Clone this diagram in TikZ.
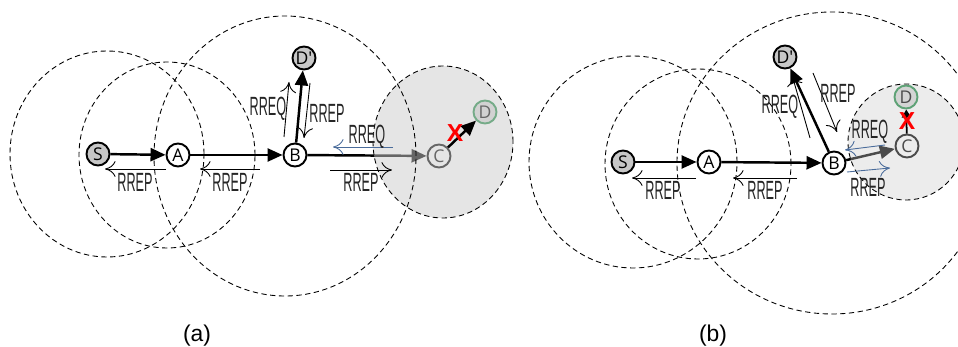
\documentclass[tikz,border=0pt]{standalone}
\usepackage{fontspec}
\usepackage{graphicx}
\setmainfont{Liberation Sans}
\newfontfamily\stnfont{Open Sans}
\usetikzlibrary{arrows.meta}
\definecolor{rreqblue}{HTML}{4A6C9B}
\definecolor{dgreen}{HTML}{1F8A45}
\newcommand{\msgtxt}[1]{\scalebox{0.48}[1]{#1}}

\begin{document}
\begin{tikzpicture}[
  stn/.style={circle,draw,line width=1.1pt,minimum size=0.46cm,inner sep=0pt,fill=white,font=\stnfont\fontsize{10}{10}\selectfont},
  src/.style={stn,fill=black!22},
  dst/.style={stn,draw=dgreen,fill=black!15},
  zone/.style={draw,line width=0.5pt,dash pattern=on 3pt off 2pt},
  shade/.style={fill=black!20},
  hop/.style={line width=1.4pt,-{Triangle[length=0.3cm,width=0.26cm]}},
  shorthop/.style={line width=1pt,-{Triangle[length=0.16cm,width=0.18cm]}},
  msg/.style={line width=0.5pt,-{Computer Modern Rightarrow[length=6pt,width=9pt]}},
  msglbl/.style={inner sep=0pt,text=black!85,font=\fontsize{15}{15}\selectfont},
  cross/.style={inner sep=0pt,text=red,font=\bfseries\fontsize{14}{14}\selectfont},
  caption/.style={inner sep=0pt,font=\fontsize{13}{13}\selectfont}
]
\useasboundingbox (0,0) rectangle (19.160,-6.940);
\clip (0,0) rectangle (19.160,-6.940);

\node[src] (Sa) at (1.960,-3.080) {S};
\node[stn] (Aa) at (3.560,-3.100) {A};
\node[stn] (Ba) at (5.900,-3.100) {B};
\node[src] (DPa) at (6.080,-1.160) {D'};
\node[stn] (Ca) at (8.780,-3.120) {C};
\node[dst] (Da) at (9.700,-2.240) {D};
\draw[hop] (Sa) -- (Aa);
\draw[hop] (Aa) -- (Ba);
\draw[hop] (Ba) -- (DPa);
\draw[hop] (Ba) -- (Ca);
\fill[shade,opacity=0.5] (8.860,-2.840) ellipse [x radius=1.400,y radius=1.520];
\draw[zone] (8.860,-2.840) ellipse [x radius=1.400,y radius=1.520];
\draw[zone] (2.140,-3.080) ellipse [x radius=1.940,y radius=2.060];
\draw[zone] (3.340,-3.100) ellipse [x radius=1.760,y radius=1.860];
\draw[zone] (5.700,-3.120) ellipse [x radius=2.620,y radius=2.800];
\draw[hop] (Ca) -- (Da);
\node[cross] (Xa) at (9.100,-2.660) {X};

\draw[msg] (3.320,-3.380) -- (2.100,-3.380);
\node[msglbl] (ra1) at (2.700,-3.640) {\msgtxt{RREP}};
\draw[msg] (5.200,-3.380) -- (4.000,-3.380);
\node[msglbl] (ra2) at (4.600,-3.640) {\msgtxt{RREP}};
\draw[msg] (6.600,-3.400) -- (7.840,-3.400);
\node[msglbl] (ra3) at (7.220,-3.640) {\msgtxt{RREP}};
\draw[msg] (5.680,-2.740) -- (5.780,-1.640);
\node[msglbl] (qa1) at (5.360,-2.180) {\msgtxt{RREQ}};
\draw[msg] (6.200,-1.660) -- (6.080,-2.760);
\node[msglbl] (ra4) at (6.540,-2.260) {\msgtxt{RREP}};
\draw[msg,rreqblue] (7.860,-2.940) -- (6.660,-2.940);
\node[msglbl] (qa2) at (7.340,-2.740) {\msgtxt{RREQ}};

\node[src] (Sb) at (12.460,-3.240) {S};
\node[stn] (Ab) at (14.180,-3.240) {A};
\node[stn] (Bb) at (16.680,-3.260) {B};
\node[src] (DPb) at (15.700,-1.140) {D'};
\node[stn] (Cb) at (18.140,-2.920) {C};
\node[dst] (Db) at (18.120,-1.940) {D};
\draw[hop] (Sb) -- (Ab);
\draw[hop] (Ab) -- (Bb);
\draw[hop] (Bb) -- (DPb);
\draw[hop] (Bb) -- (Cb);
\fill[shade,opacity=0.37] (18.120,-2.840) ellipse [x radius=1.160,y radius=1.160];
\draw[zone] (18.120,-2.840) ellipse [x radius=1.160,y radius=1.160];
\draw[zone] (12.660,-3.240) ellipse [x radius=2.080,y radius=2.120];
\draw[zone] (13.960,-3.280) ellipse [x radius=1.860,y radius=1.900];
\draw[zone] (16.640,-3.260) ellipse [x radius=3.100,y radius=3.020];
\draw[shorthop] (Cb) -- (Db);
\node[cross] (Xb) at (18.140,-2.420) {X};

\draw[msg] (13.920,-3.560) -- (12.640,-3.560);
\node[msglbl] (rb1) at (13.260,-3.800) {\msgtxt{RREP}};
\draw[msg] (15.940,-3.560) -- (14.660,-3.560);
\node[msglbl] (rb2) at (15.300,-3.800) {\msgtxt{RREP}};
\draw[msg] (16.200,-2.760) -- (15.840,-1.500);
\node[msglbl] (qb1) at (15.600,-2.130) {\msgtxt{RREQ}};
\draw[msg] (16.260,-1.460) -- (16.740,-2.640);
\node[msglbl] (rb3) at (16.760,-1.860) {\msgtxt{RREP}};
\draw[msg,rreqblue] (17.700,-2.900) -- (16.900,-3.000);
\node[msglbl] (qb2) at (17.400,-2.640) {\msgtxt{RREQ}};
\draw[msg,rreqblue] (16.940,-3.440) -- (17.800,-3.360);
\node[msglbl] (rb4) at (17.360,-3.740) {\msgtxt{RREP}};

\node[caption] (capa) at (3.940,-6.720) {(a)};
\node[caption] (capb) at (14.260,-6.720) {(b)};
\end{tikzpicture}
\end{document}
